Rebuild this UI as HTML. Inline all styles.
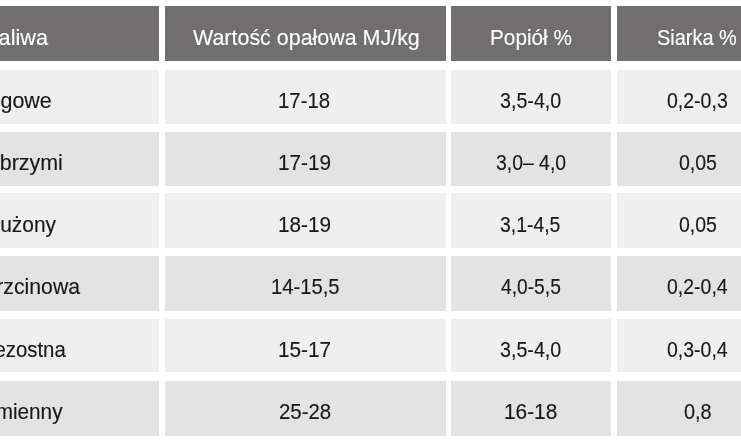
<!DOCTYPE html><html lang="pl"><head><meta charset="utf-8"><title>Tabela</title><style>
html,body{margin:0;padding:0;background:#fff;}
body{width:741px;height:444px;position:relative;overflow:hidden;font-family:'Liberation Sans',Arial,sans-serif;}
.c{position:absolute;}
.t{-webkit-text-stroke:0.15px currentColor;position:absolute;white-space:nowrap;font-size:22px;line-height:30px;height:30px;color:#181818;transform-origin:0 50%;}
.r{transform-origin:100% 50%;}
.h{color:#fff;}
</style></head><body>
<div class="c" style="left:0.00px;top:6.00px;width:158.80px;height:54.60px;background:#706e6f"></div>
<div class="c" style="left:165.20px;top:6.00px;width:280.80px;height:54.60px;background:#706e6f"></div>
<div class="c" style="left:451.00px;top:6.00px;width:160.00px;height:54.60px;background:#706e6f"></div>
<div class="c" style="left:617.00px;top:6.00px;width:124.00px;height:54.60px;background:#706e6f"></div>
<div class="c" style="left:0.00px;top:70.40px;width:158.80px;height:53.60px;background:#efefef"></div>
<div class="c" style="left:165.20px;top:70.40px;width:280.80px;height:53.60px;background:#efefef"></div>
<div class="c" style="left:451.00px;top:70.40px;width:160.00px;height:53.60px;background:#efefef"></div>
<div class="c" style="left:617.00px;top:70.40px;width:124.00px;height:53.60px;background:#efefef"></div>
<div class="c" style="left:0.00px;top:131.50px;width:158.80px;height:54.00px;background:#e3e3e3"></div>
<div class="c" style="left:165.20px;top:131.50px;width:280.80px;height:54.00px;background:#e3e3e3"></div>
<div class="c" style="left:451.00px;top:131.50px;width:160.00px;height:54.00px;background:#e3e3e3"></div>
<div class="c" style="left:617.00px;top:131.50px;width:124.00px;height:54.00px;background:#e3e3e3"></div>
<div class="c" style="left:0.00px;top:193.40px;width:158.80px;height:54.20px;background:#efefef"></div>
<div class="c" style="left:165.20px;top:193.40px;width:280.80px;height:54.20px;background:#efefef"></div>
<div class="c" style="left:451.00px;top:193.40px;width:160.00px;height:54.20px;background:#efefef"></div>
<div class="c" style="left:617.00px;top:193.40px;width:124.00px;height:54.20px;background:#efefef"></div>
<div class="c" style="left:0.00px;top:256.00px;width:158.80px;height:54.60px;background:#e3e3e3"></div>
<div class="c" style="left:165.20px;top:256.00px;width:280.80px;height:54.60px;background:#e3e3e3"></div>
<div class="c" style="left:451.00px;top:256.00px;width:160.00px;height:54.60px;background:#e3e3e3"></div>
<div class="c" style="left:617.00px;top:256.00px;width:124.00px;height:54.60px;background:#e3e3e3"></div>
<div class="c" style="left:0.00px;top:319.00px;width:158.80px;height:53.20px;background:#efefef"></div>
<div class="c" style="left:165.20px;top:319.00px;width:280.80px;height:53.20px;background:#efefef"></div>
<div class="c" style="left:451.00px;top:319.00px;width:160.00px;height:53.20px;background:#efefef"></div>
<div class="c" style="left:617.00px;top:319.00px;width:124.00px;height:53.20px;background:#efefef"></div>
<div class="c" style="left:0.00px;top:381.20px;width:158.80px;height:55.10px;background:#e3e3e3"></div>
<div class="c" style="left:165.20px;top:381.20px;width:280.80px;height:55.10px;background:#e3e3e3"></div>
<div class="c" style="left:451.00px;top:381.20px;width:160.00px;height:55.10px;background:#e3e3e3"></div>
<div class="c" style="left:617.00px;top:381.20px;width:124.00px;height:55.10px;background:#e3e3e3"></div>
<div class="t h r" id="a0" style="top:22.70px;right:693.40px;transform:scaleX(0.9851);">Rodzaj paliwa</div>
<div class="t h" id="b0" style="top:22.70px;left:192.60px;transform:scaleX(0.9746);">Wartość opałowa MJ/kg</div>
<div class="t h" id="c0" style="top:22.70px;left:490.00px;transform:scaleX(0.9435);">Popiół %</div>
<div class="t h" id="d0" style="top:22.70px;left:656.80px;transform:scaleX(0.9069);">Siarka %</div>
<div class="t r" id="a1" style="top:85.80px;right:688.90px;transform:scaleX(0.9745);">Proso rózgowe</div>
<div class="t" id="b1" style="top:85.80px;left:278.20px;transform:scaleX(0.9255);">17-18</div>
<div class="t" id="c1" style="top:85.80px;left:500.20px;transform:scaleX(0.8940);">3,5-4,0</div>
<div class="t" id="d1" style="top:85.80px;left:667.40px;transform:scaleX(0.8866);">0,2-0,3</div>
<div class="t r" id="a2" style="top:148.20px;right:678.00px;transform:scaleX(0.9738);">Miskant olbrzymi</div>
<div class="t" id="b2" style="top:148.20px;left:278.20px;transform:scaleX(0.9426);">17-19</div>
<div class="t" id="c2" style="top:148.20px;left:496.40px;transform:scaleX(0.8808);">3,0– 4,0</div>
<div class="t" id="d2" style="top:148.20px;left:678.50px;transform:scaleX(0.8869);">0,05</div>
<div class="t r" id="a3" style="top:210.00px;right:685.00px;transform:scaleX(0.9517);">Perz wydłużony</div>
<div class="t" id="b3" style="top:210.00px;left:278.20px;transform:scaleX(0.9426);">18-19</div>
<div class="t" id="c3" style="top:210.00px;left:500.20px;transform:scaleX(0.8821);">3,1-4,5</div>
<div class="t" id="d3" style="top:210.00px;left:678.50px;transform:scaleX(0.8869);">0,05</div>
<div class="t r" id="a4" style="top:271.60px;right:661.20px;transform:scaleX(0.9658);">Mozga trzcinowa</div>
<div class="t" id="b4" style="top:271.60px;left:270.50px;transform:scaleX(0.9192);">14-15,5</div>
<div class="t" id="c4" style="top:271.60px;left:501.10px;transform:scaleX(0.8735);">4,0-5,5</div>
<div class="t" id="d4" style="top:271.60px;left:667.40px;transform:scaleX(0.8859);">0,2-0,4</div>
<div class="t r" id="a5" style="top:335.10px;right:675.20px;transform:scaleX(0.9266);">Stokłosa bezostna</div>
<div class="t" id="b5" style="top:335.10px;left:278.20px;transform:scaleX(0.9426);">15-17</div>
<div class="t" id="c5" style="top:335.10px;left:500.20px;transform:scaleX(0.8940);">3,5-4,0</div>
<div class="t" id="d5" style="top:335.10px;left:667.40px;transform:scaleX(0.8859);">0,3-0,4</div>
<div class="t r" id="a6" style="top:397.00px;right:678.40px;transform:scaleX(0.9423);">Węgiel kamienny</div>
<div class="t" id="b6" style="top:397.00px;left:279.00px;transform:scaleX(0.9273);">25-28</div>
<div class="t" id="c6" style="top:397.00px;left:504.10px;transform:scaleX(0.9473);">16-18</div>
<div class="t" id="d6" style="top:397.00px;left:683.60px;transform:scaleX(0.9034);">0,8</div>
</body></html>
